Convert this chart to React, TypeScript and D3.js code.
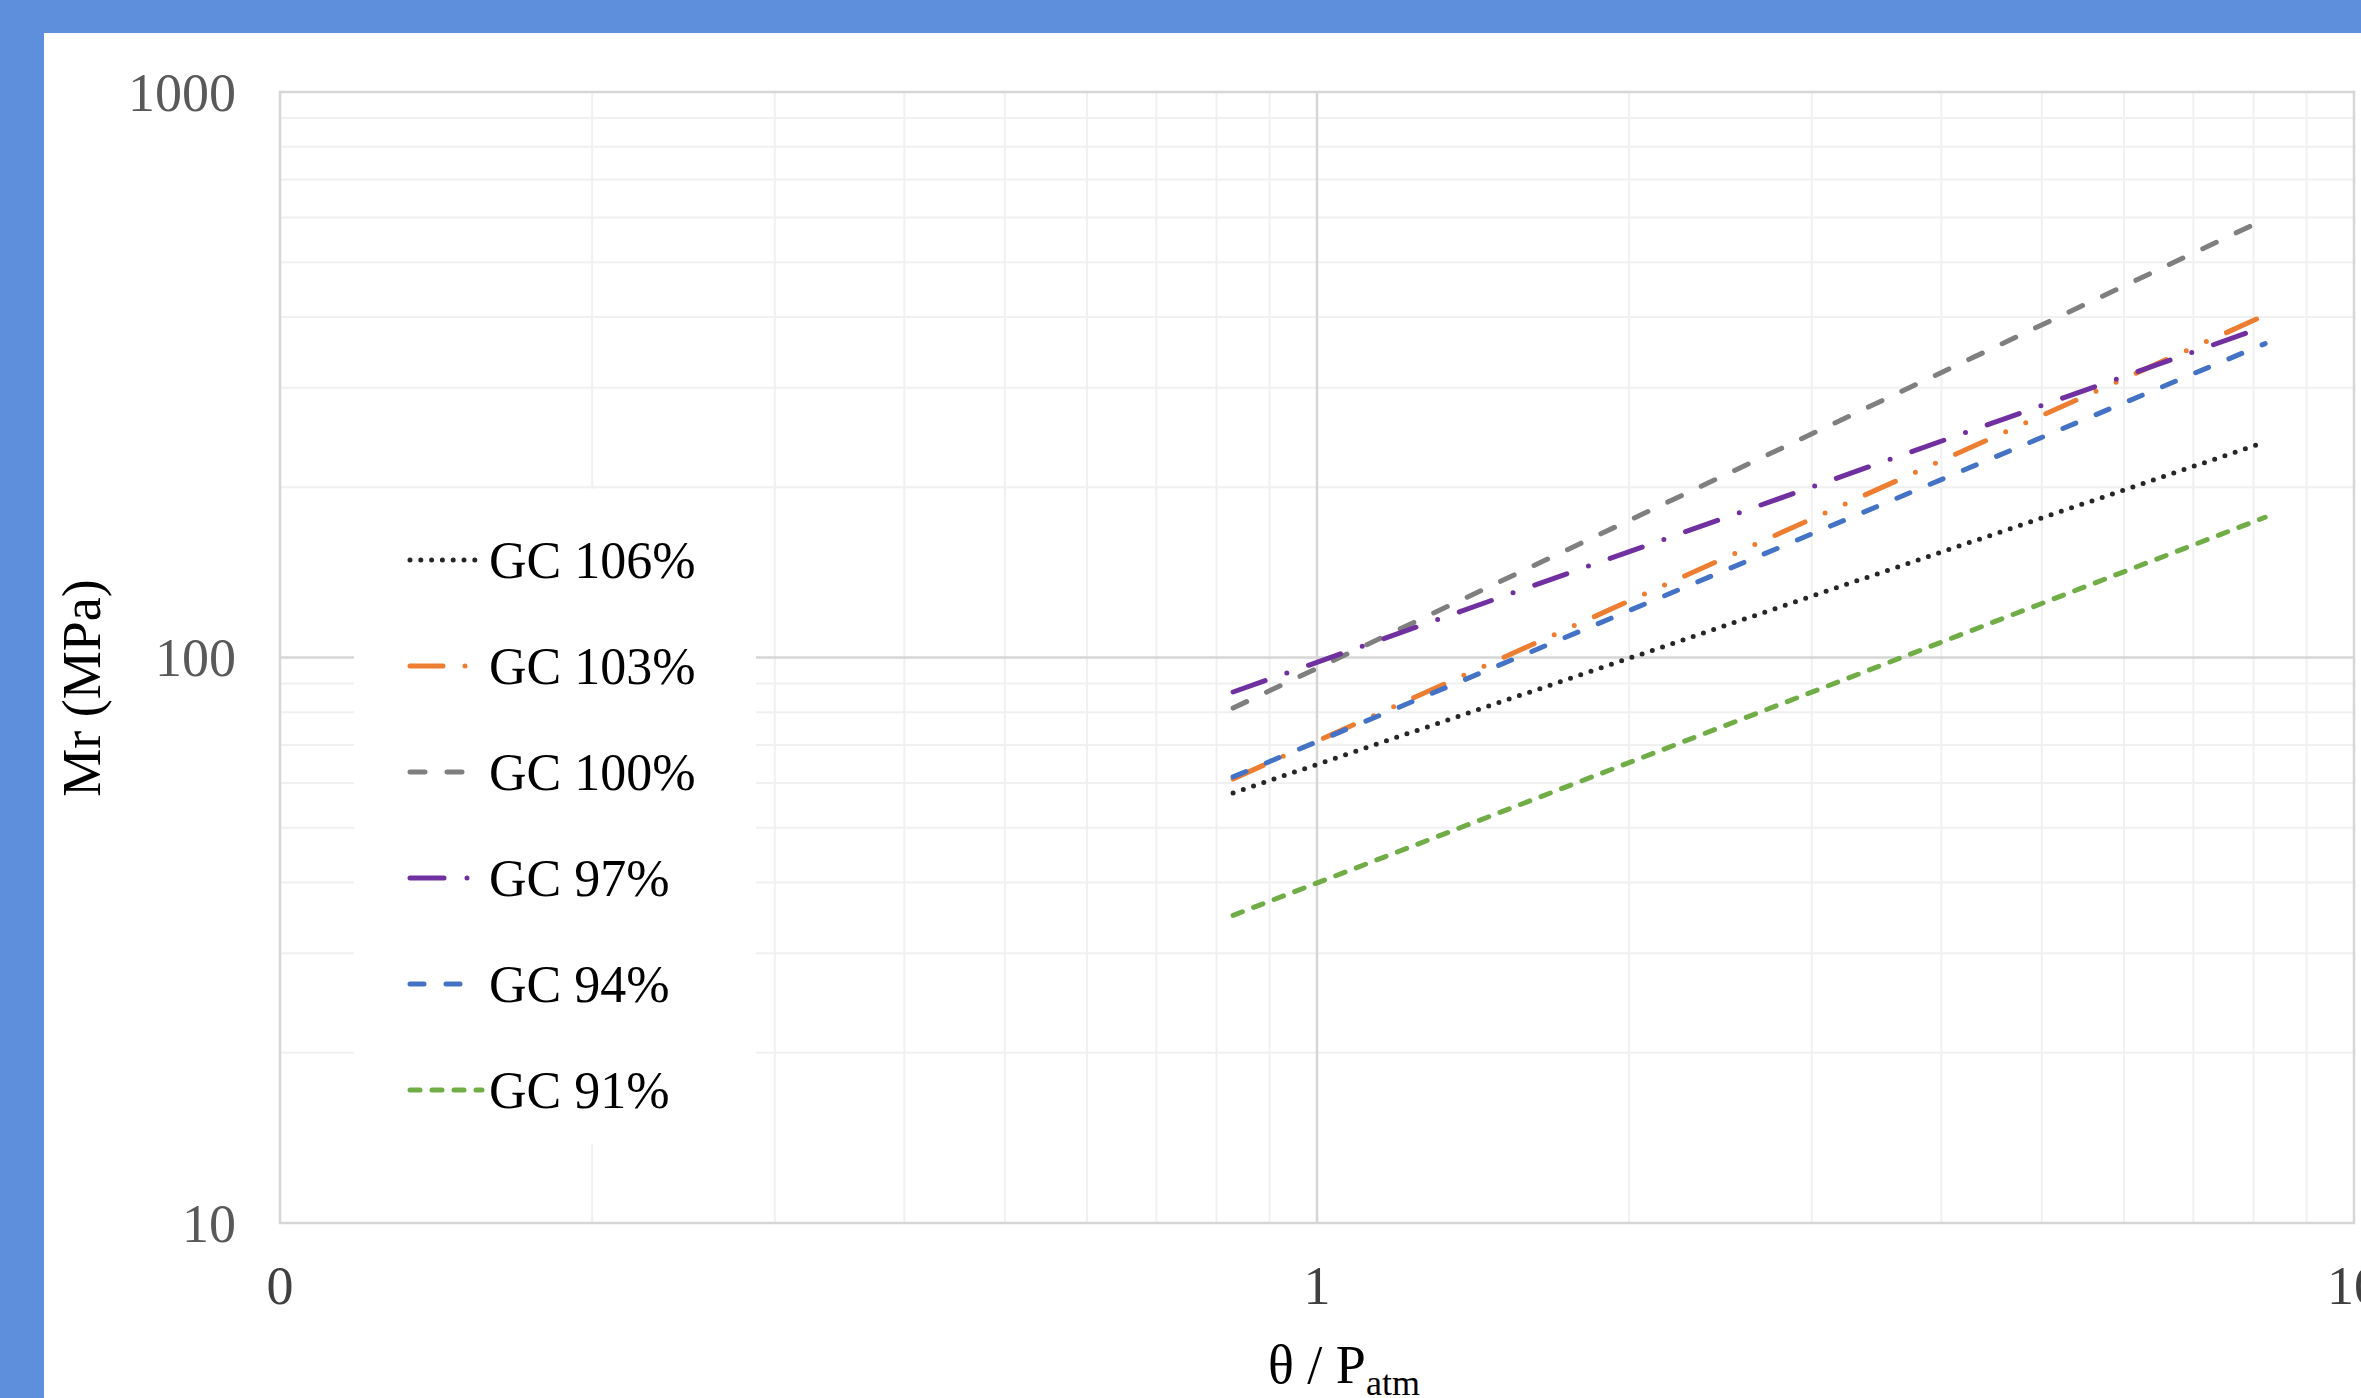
import * as d3 from 'd3';

// x: theta / Patm, y: Mr (MPa), end points of each fitted line
const thetaRange = [0.83, 8.21];
const seriesNames = ['GC 106%', 'GC 103%', 'GC 100%', 'GC 97%', 'GC 94%', 'GC 91%'];
const gc106 = [57.6, 240.5];
const gc103 = [61.0, 403];
const gc100 = [81.4, 596];
const gc97 = [86.9, 385];
const gc94 = [61.5, 359];
const gc91 = [35.0, 177];

const xTickValues = [0.1, 1, 10];
const xTickLabels = ['0', '1', '10'];
const yTickValues = [10, 100, 1000];
const yTickLabels = ['10', '100', '1000'];

const W = 2361;
const H = 1398;
const FONT = '"Liberation Serif", "Times New Roman", serif';

const styles = [
  { color: '#262626', dash: '0 10.8' },
  { color: '#ED7D31', dash: '33 22 0 22 0 22' },
  { color: '#7F7F7F', dash: '15 22' },
  { color: '#7030A0', dash: '34 23 0 23' },
  { color: '#4472C4', dash: '14 22' },
  { color: '#70AD47', dash: '10 12' },
];

export default function App() {
  const x = d3.scaleLog().domain([0.1, 10]).range([280, 2354]);
  const y = d3.scaleLog().domain([10, 1000]).range([1223, 92]);

  const allSeries = [gc106, gc103, gc100, gc97, gc94, gc91];
  const line = d3
    .line<[number, number]>()
    .x((d) => x(d[0]))
    .y((d) => y(d[1]));

  const xMinor: number[] = [];
  const yMinor: number[] = [];
  [0.1, 1].forEach((b) => {
    for (let k = 2; k <= 9; k++) xMinor.push(b * k);
  });
  [10, 100].forEach((b) => {
    for (let k = 2; k <= 9; k++) yMinor.push(b * k);
  });

  const [x0, x1] = x.range();
  const [y0, y1] = y.range();

  const legendX = 410;
  const legendY0 = 560;
  const legendStep = 106;

  return (
    <svg
      width={W}
      height={H}
      style={{ position: 'absolute', left: 0, top: 0, display: 'block', background: '#fff' }}
    >
      {/* frame */}
      <rect x={0} y={0} width={W} height={33} fill="#5E8FDC" />
      <rect x={0} y={0} width={44} height={H} fill="#5E8FDC" />

      {/* minor grid */}
      {xMinor.map((v) => (
        <line key={'xm' + v} x1={x(v)} x2={x(v)} y1={y1} y2={y0} stroke="#f0f0f0" strokeWidth={2} />
      ))}
      {yMinor.map((v) => (
        <line key={'ym' + v} x1={x0} x2={x1} y1={y(v)} y2={y(v)} stroke="#f0f0f0" strokeWidth={2} />
      ))}
      {/* major grid */}
      <line x1={x(1)} x2={x(1)} y1={y1} y2={y0} stroke="#d6d6d6" strokeWidth={2.5} />
      <line x1={x0} x2={x1} y1={y(100)} y2={y(100)} stroke="#d6d6d6" strokeWidth={2.5} />
      <rect x={x0} y={y1} width={x1 - x0} height={y0 - y1} fill="none" stroke="#d6d6d6" strokeWidth={2.5} />

      {/* legend background */}
      <rect x={354} y={489} width={402} height={655} fill="#fff" />

      {/* series */}
      {allSeries.map((s, i) => (
        <path
          key={seriesNames[i]}
          d={line(thetaRange.map((t, j) => [t, s[j]] as [number, number])) || ''}
          fill="none"
          stroke={styles[i].color}
          strokeWidth={5}
          strokeDasharray={styles[i].dash}
          strokeLinecap="round"
        />
      ))}

      {/* y ticks */}
      {yTickValues.map((v, i) => (
        <text
          key={'yt' + v}
          x={236}
          y={y(v)}
          dy="0.35em"
          textAnchor="end"
          fontFamily={FONT}
          fontSize={54}
          fill="#595959"
        >
          {yTickLabels[i]}
        </text>
      ))}
      {/* x ticks */}
      {xTickValues.map((v, i) => (
        <text
          key={'xt' + v}
          x={x(v)}
          y={1304}
          textAnchor="middle"
          fontFamily={FONT}
          fontSize={54}
          fill="#404040"
        >
          {xTickLabels[i]}
        </text>
      ))}

      {/* axis titles */}
      <text
        transform="translate(100,688) rotate(-90)"
        textAnchor="middle"
        fontFamily={FONT}
        fontSize={54}
        fill="#000"
      >
        Mr (MPa)
      </text>
      <text x={1268} y={1383} fontFamily={FONT} fontSize={54} fill="#000">
        θ / P
        <tspan fontSize={36} dy={12}>
          atm
        </tspan>
      </text>

      {/* legend */}
      {seriesNames.map((name, i) => (
        <g key={'lg' + name} transform={`translate(${legendX},${legendY0 + i * legendStep})`}>
          <line
            x1={0}
            x2={72}
            y1={0}
            y2={0}
            stroke={styles[i].color}
            strokeWidth={5}
            strokeDasharray={styles[i].dash}
            strokeLinecap="round"
          />
          <text x={79} y={0} dy="0.35em" fontFamily={FONT} fontSize={52} fill="#000">
            {name}
          </text>
        </g>
      ))}
    </svg>
  );
}
